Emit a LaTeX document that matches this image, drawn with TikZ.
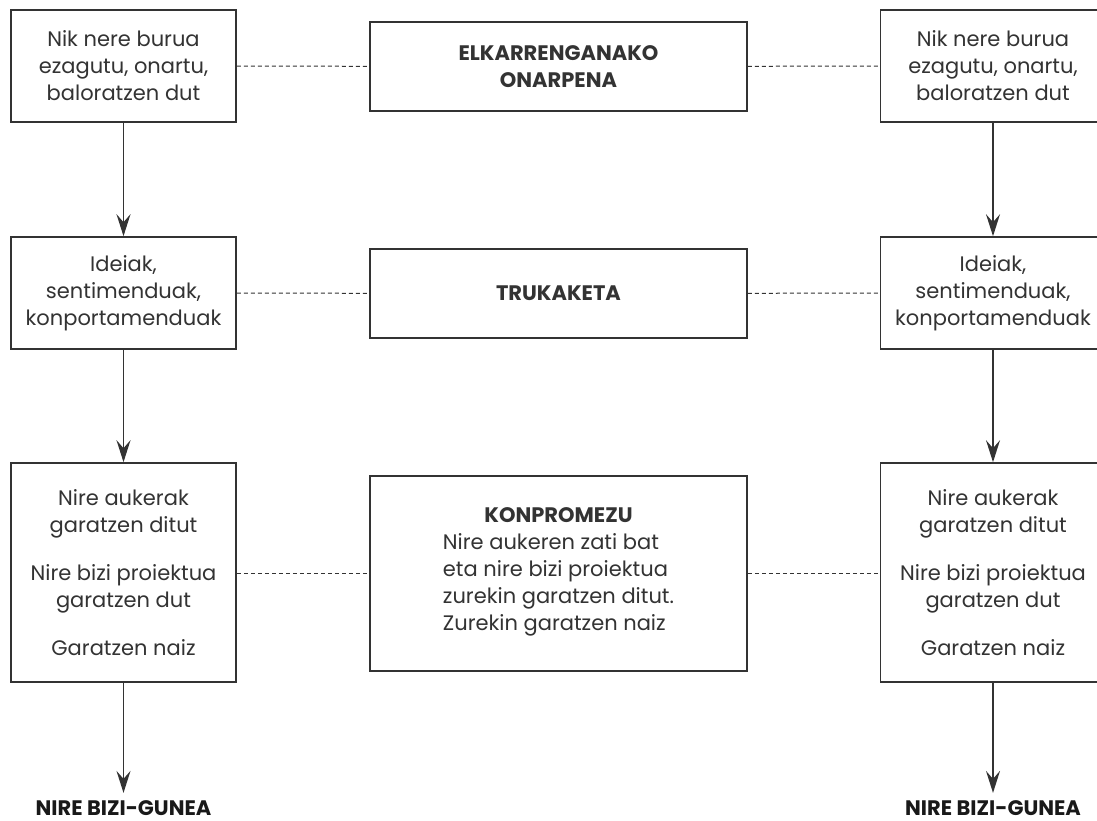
\documentclass[tikz,border=0pt]{standalone}
\usepackage{fontspec}
\setmainfont{Poppins}
\usetikzlibrary{arrows.meta, positioning}
\definecolor{inkgray}{RGB}{51,51,51}

\begin{document}
\begin{tikzpicture}[x=1pt, y=-1pt,
  box/.style={draw=inkgray, line width=1.6pt, fill=white, align=center, inner sep=0pt, text=inkgray, font=\fontsize{21}{27}\selectfont},
  sidebox/.style={box, minimum width=225pt},
  midbox/.style={box, minimum width=377pt},
  link/.style={draw=inkgray, line width=1pt, dash pattern=on 4pt off 3pt},
  flow/.style={draw=inkgray, line width=1.6pt, -{Stealth[length=22pt, width=14pt, inset=8pt]}},
  goal/.style={font=\fontsize{21}{27}\selectfont\bfseries, text=black!90, inner sep=0pt, anchor=base}]
  \useasboundingbox (0,0) rectangle (1097,821);

  % top row
  \node[sidebox, minimum height=112pt] (selfL) at (123.5,66) {Nik nere burua\\ezagutu, onartu,\\baloratzen dut};
  \node[midbox, minimum height=89pt] (accept) at (558.5,66.5) {\textbf{ELKARRENGANAKO}\\\textbf{ONARPENA}};
  \node[sidebox, minimum height=112pt] (selfR) at (993,66) {Nik nere burua\\ezagutu, onartu,\\baloratzen dut};

  % middle row
  \node[sidebox, minimum height=112pt] (ideaL) at (123.5,293) {Ideiak,\\sentimenduak,\\konportamenduak};
  \node[midbox, minimum height=89pt] (trade) at (558.5,293.5) {\textbf{TRUKAKETA}};
  \node[sidebox, minimum height=112pt] (ideaR) at (993,293) {Ideiak,\\sentimenduak,\\konportamenduak};

  % bottom row
  \node[sidebox, minimum height=219pt] (growL) at (123.5,572.5) {Nire aukerak\\garatzen ditut\\[21pt]Nire bizi proiektua\\garatzen dut\\[21pt]Garatzen naiz};
  \node[midbox, minimum height=195pt] (commit) at (558.5,573.5) {\textbf{KONPROMEZU}\\
    \begin{tabular}[t]{@{}l@{}}Nire aukeren zati bat\\eta nire bizi proiektua\\zurekin garatzen ditut.\\Zurekin garatzen naiz\end{tabular}};
  \node[sidebox, minimum height=219pt] (growR) at (993,572.5) {Nire aukerak\\garatzen ditut\\[21pt]Nire bizi proiektua\\garatzen dut\\[21pt]Garatzen naiz};

  % goals
  \node[goal] (goalL) at (123.5,815) {NIRE BIZI-GUNEA};
  \node[goal] (goalR) at (993,815) {NIRE BIZI-GUNEA};

  % dashed links
  \draw[link] (selfL) -- (accept) -- (selfR);
  \draw[link] (ideaL) -- (trade) -- (ideaR);
  \draw[link] (growL.east |- commit.west) -- (commit) -- (growR.west |- commit.west);

  % arrows
  \draw[flow] (selfL) -- (ideaL);
  \draw[flow] (ideaL) -- (growL);
  \draw[flow, shorten >=7pt] (growL) -- (goalL.north);
  \draw[flow] (selfR) -- (ideaR);
  \draw[flow] (ideaR) -- (growR);
  \draw[flow, shorten >=7pt] (growR) -- (goalR.north);
\end{tikzpicture}
\end{document}
